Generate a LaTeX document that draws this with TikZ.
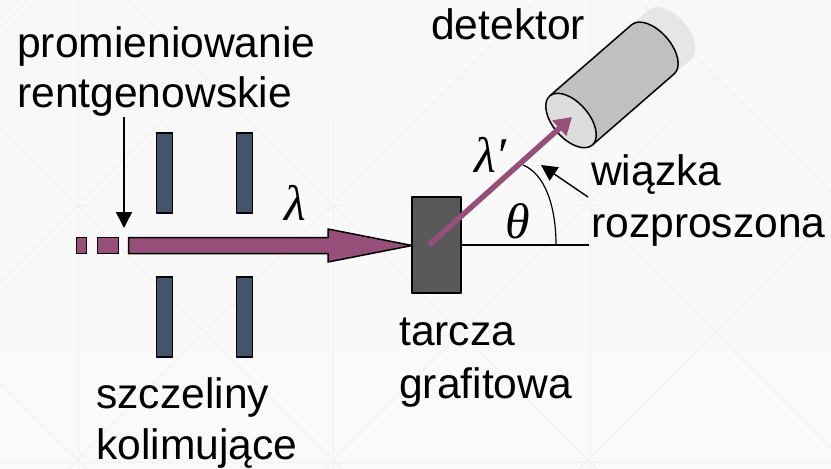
\documentclass[tikz,border=0pt]{standalone}
\usepackage{fontspec}
\setmainfont{Liberation Sans}
\newfontfamily\symfont{Liberation Serif}
\usetikzlibrary{arrows.meta,calc}
\definecolor{beam}{HTML}{964F78}
\definecolor{slit}{HTML}{44546A}
\definecolor{target}{HTML}{595959}
\definecolor{bodyg}{HTML}{C0C0C0}
\definecolor{faceg}{HTML}{DCDCDC}
\definecolor{capg}{HTML}{E6E6E6}
\definecolor{grid}{HTML}{F1F1F1}
\definecolor{bgtop}{HTML}{F8F8F8}
\definecolor{bgmid}{HTML}{FDFDFD}
\definecolor{bgbot}{HTML}{FAFAFA}
\tikzset{
 lbl/.style={font=\fontsize{42.6}{50}\selectfont,align=left,inner sep=0pt,text=black},
 sym/.style={font=\fontsize{50}{56}\selectfont\symfont\itshape,inner sep=0pt,text=black},
 slitbox/.style={draw=black,line width=1.6pt,fill=slit,minimum width=16pt,minimum height=80pt,inner sep=0pt},
 seg/.style={draw=black,line width=1.6pt,fill=beam,inner sep=0pt},
 thin arrow/.style={draw=black,line width=1.4pt,-{Triangle[length=16pt,width=16pt]}},
 gridline/.style={grid,line width=1pt}
}
\begin{document}
\begin{tikzpicture}[x=1pt,y=-1pt,line join=round]
\useasboundingbox (0,0) rectangle (831,469);
\shade[top color=bgtop,middle color=bgmid,bottom color=bgbot] (0,0) rectangle (831,469);
\begin{scope}
\clip (0,0) rectangle (831,469);
\foreach \c in {-382,-127,128,383,638}{
 \draw[gridline] (\c-100,-100) -- (\c+600,600);}
\foreach \c in {28,283,538,793,1048,1303}{
 \draw[gridline] (\c+100,-100) -- (\c-600,600);}
\foreach \c in {78,333,590}{
 \draw[gridline] (\c,0) -- (\c,469);}
\foreach \c in {205,462}{
 \draw[gridline] (0,\c) -- (831,\c);}
\end{scope}
% slits
\node[slitbox] (s1) at (164.5,173) {};
\node[slitbox] (s2) at (244.5,173) {};
\node[slitbox] (s3) at (164.5,317) {};
\node[slitbox] (s4) at (244.5,317) {};
% target
\node[draw=black,line width=1.4pt,fill=target,minimum width=49pt,minimum height=96pt,inner sep=0pt] (t) at (436.5,245) {};
% detector
\begin{scope}[shift={(571,120.5)},rotate=41]
 \fill[capg] (100,-32.5) rectangle (131.5,32.5);
 \fill[capg] (131.5,0) ellipse[x radius=18,y radius=32.5];
 \path[fill=bodyg,draw=black,line width=1.5pt] (0,-32.5) -- (108.5,-32.5) arc[start angle=-90,end angle=90,x radius=18,y radius=32.5] -- (0,32.5);
 \path[fill=faceg,draw=black,line width=1.5pt] (0,0) ellipse[x radius=18,y radius=32.5];
\end{scope}
% beam
\node[seg,minimum width=10pt,minimum height=16pt] (b1) at (81.5,245.5) {};
\node[seg,minimum width=21pt,minimum height=16pt] (b2) at (108,245.5) {};
\coordinate (tip) at (412,245.5);
\path[fill=beam,draw=black,line width=1.5pt] (128.5,237.5) -- (328,237.5) -- (328,229) -- (tip) -- (328,262) -- (328,253.5) -- (128.5,253.5) -- cycle;
% scattered
\coordinate (sc0) at (429,245);
\coordinate (sc1) at (572,117);
\draw[beam,line width=5.5pt,-{Triangle[length=17pt,width=20pt]}] (sc0) -- (sc1);
% axis and arc
\coordinate (axend) at (589,245);
\draw[black,line width=1.2pt] (t.east |- axend) -- (axend);
\draw[black,line width=1.2pt] (556,245) .. controls (556,206) and (545,174) .. (523,165);
% arrows
\coordinate (a1) at (124,117);
\coordinate (a2) at (124,228);
\draw[thin arrow] (a1) -- (a2);
\coordinate (a3) at (588,197);
\coordinate (a4) at (541,165);
\draw[thin arrow] (a3) -- (a4);
% labels
\node[lbl,anchor=base west] (l1) at (17,57) {promieniowanie};
\node[lbl,anchor=base west] (l2) at (17,107) {rentgenowskie};
\node[lbl,anchor=base west] (l3) at (431,39) {detektor};
\node[lbl,anchor=base west] (l4) at (591,185) {wiązka};
\node[lbl,anchor=base west] (l5) at (591,237) {rozproszona};
\node[lbl,anchor=base west] (l6) at (399,345) {tarcza};
\node[lbl,anchor=base west] (l7) at (399,398) {grafitowa};
\node[lbl,anchor=base west] (l8) at (96,408) {szczeliny};
\node[lbl,anchor=base west] (l9) at (96,459) {kolimujące};
\node[sym,anchor=base west] (m1) at (284,220) {λ};
\node[sym,anchor=base west] (m2) at (474,172) {λ′};
\node[sym,anchor=base west] (m3) at (505,238) {θ};
\end{tikzpicture}
\end{document}
